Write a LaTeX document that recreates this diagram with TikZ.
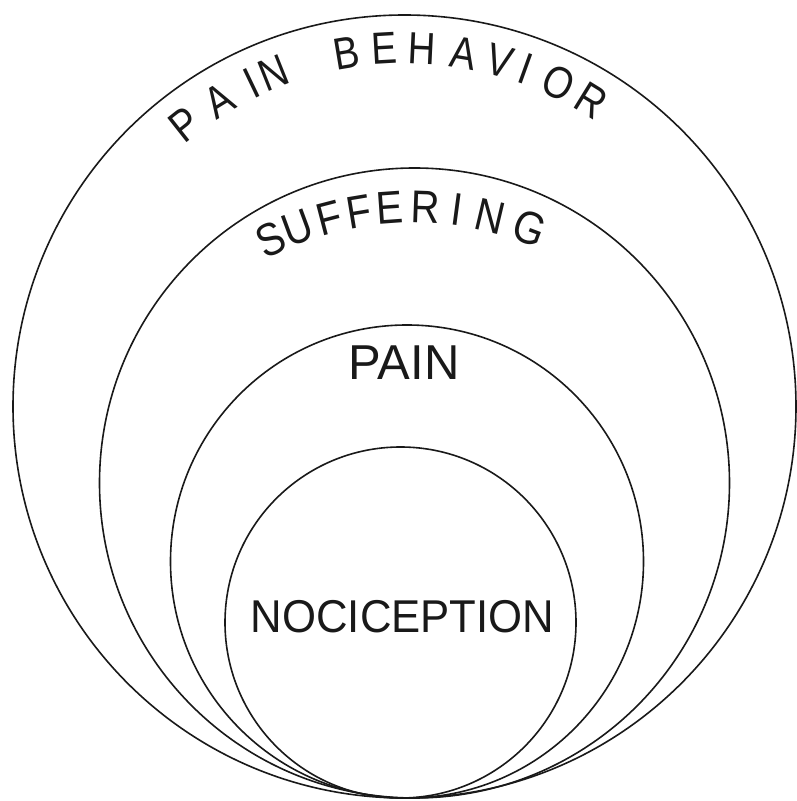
\documentclass[tikz,border=0pt]{standalone}
\usepackage{fontspec}
\setmainfont{Liberation Sans}
\begin{document}
\begin{tikzpicture}[x=1pt,y=1pt,
  ring/.style={draw=black!90, line width=1.6pt},
  ltr/.style={inner sep=0pt, anchor=center, text=black!90},
  pbfont/.style={font=\fontsize{45}{45}\selectfont},
  sufont/.style={font=\fontsize{46}{46}\selectfont}]
\useasboundingbox (0,0) rectangle (796,801);
% nested circles, tangent at the bottom
\draw[ring] (404.5,394.5) circle[radius=391.5];
\draw[ring] (414.5,318) circle[radius=315];
\draw[ring] (407,239.5) circle[radius=236.5];
\draw[ring] (400.5,178.5) circle[radius=175.5];
% straight labels
\node[ltr, font=\fontsize{46}{46}\selectfont, xscale=0.95] (noci) at (402.5,184.5) {NOCICEPTION};
\node[ltr, font=\fontsize{49}{49}\selectfont] (pain) at (404,438.5) {PAIN};
% curved label: PAIN BEHAVIOR
\foreach \ch/\ang [count=\i, evaluate=\ang as \a using 90-\ang] in
  {P/-38.3, A/-31.5, I/-25.6, N/-21.8, B/-9.5, E/-3.3, H/2.7, A/9.5, V/15.5, I/19.8, O/25.6, R/31.6}
  \node[ltr, pbfont, rotate=-\ang, xscale=0.85] (pb\i) at ([shift={(405,398)}]\a:355) {\ch};
% curved label: SUFFERING
\foreach \ch/\ang [count=\i, evaluate=\ang as \a using 90-\ang] in
  {S/-25.4, U/-20.3, F/-14.6, F/-9.4, E/-4.1, R/2.1, I/7.6, N/13.4, G/20.6}
  \node[ltr, sufont, rotate=-\ang, xscale=0.87] (su\i) at ([shift={(413,262)}]\a:332) {\ch};
\end{tikzpicture}
\end{document}
